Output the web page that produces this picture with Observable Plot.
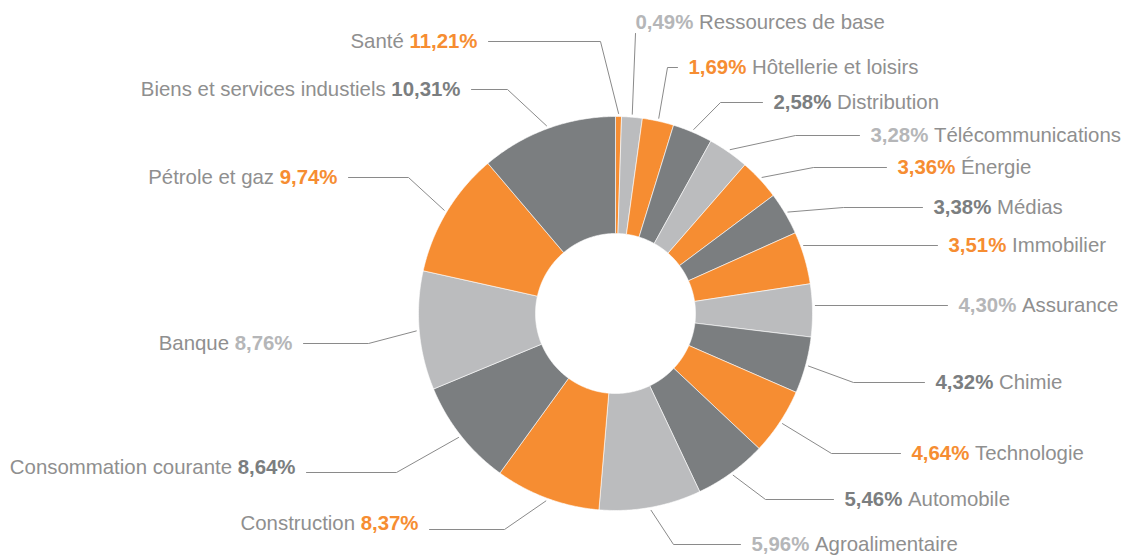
<!DOCTYPE html>
<html>
<head>
<meta charset="utf-8">
<script src="https://cdn.jsdelivr.net/npm/d3@7"></script>
<script src="https://cdn.jsdelivr.net/npm/@observablehq/plot@0.6"></script>
<style>
  html, body { margin: 0; padding: 0; background: #ffffff; }
  #chart svg { display: block; }
</style>
</head>
<body>
<div id="chart"></div>
<script>
// ---------------- DATA ----------------
// Sector names, in clockwise order of their slices starting at 12 o'clock
const categories = [
  "Santé", "Ressources de base", "Hôtellerie et loisirs", "Distribution",
  "Télécommunications", "Énergie", "Médias", "Immobilier", "Assurance",
  "Chimie", "Technologie", "Automobile", "Agroalimentaire", "Construction",
  "Consommation courante", "Banque", "Pétrole et gaz", "Biens et services industiels"
];
// Percentages printed in the labels
const labelValues = [11.21, 0.49, 1.69, 2.58, 3.28, 3.36, 3.38, 3.51, 4.30,
                     4.32, 4.64, 5.46, 5.96, 8.37, 8.64, 8.76, 9.74, 10.31];
// Slice sizes as drawn in the picture (same order as categories)
const sliceValues = [0.49, 1.69, 2.58, 3.28, 3.36, 3.38, 3.51, 4.30, 4.32,
                     4.64, 5.46, 5.96, 8.37, 8.64, 8.76, 9.74, 10.31, 11.21];
// Colour group of each sector
const colorGroups = ["orange", "light", "orange", "dark", "light", "orange", "dark", "orange", "light",
                     "dark", "orange", "dark", "light", "orange", "dark", "light", "orange", "dark"];

// ---------------- STYLE / LAYOUT ----------------
const sliceColor = {orange: "#F68D32", dark: "#7B7E80", light: "#BBBCBE"};
const pctColor   = {orange: "#F68D32", dark: "#7B7E80", light: "#B5B6B8"};
const nameColor = "#8F8F8F";
const leaderColor = "#8A8A8A";
const FONT = "'Liberation Sans', Arial, Helvetica, sans-serif";
const FS = 20.4;
const W = 1122, H = 555;
const cx = 615, cy = 313, R = 197, r0 = 80, rLead = 200;

// label placement: side, text x (start for right, end for left), text y, elbow x
const labelLayout = [
  {side: "left",  x: 477, y: 41,  elbow: 600},
  {side: "below", x: 635, y: 22},
  {side: "right", x: 688, y: 67,  elbow: 667},
  {side: "right", x: 773, y: 102, elbow: 720},
  {side: "right", x: 870, y: 135, elbow: 795},
  {side: "right", x: 897, y: 167, elbow: 813},
  {side: "right", x: 933, y: 207, elbow: 843},
  {side: "right", x: 948, y: 245, elbow: null},
  {side: "right", x: 958, y: 305, elbow: null},
  {side: "right", x: 935, y: 382, elbow: 853},
  {side: "right", x: 911, y: 453, elbow: 831},
  {side: "right", x: 844, y: 499, elbow: 765},
  {side: "right", x: 751, y: 544, elbow: 673},
  {side: "left",  x: 418, y: 523, elbow: 504, dy: 6},
  {side: "left",  x: 295, y: 467, elbow: 396, dy: 5},
  {side: "left",  x: 292, y: 343, elbow: 368},
  {side: "left",  x: 337, y: 177, elbow: 408},
  {side: "left",  x: 460, y: 89,  elbow: 507}
];

// ---------------- GEOMETRY FROM DATA ----------------
const total = d3.sum(sliceValues);
const ang = d3.scaleLinear().domain([0, total]).range([0, 2 * Math.PI]);
const pt = (a, rad) => ({x: cx + rad * Math.sin(a), y: cy - rad * Math.cos(a)});

const slicePts = [];
const mids = [];
let cum = 0;
sliceValues.forEach((v, i) => {
  const a0 = ang(cum), a1 = ang(cum + v);
  cum += v;
  mids.push((a0 + a1) / 2);
  const n = Math.max(2, Math.ceil((a1 - a0) / (Math.PI / 360)));
  const color = sliceColor[colorGroups[i]];
  const poly = [];
  for (let k = 0; k <= n; k++) poly.push(pt(a0 + (a1 - a0) * k / n, R));
  for (let k = n; k >= 0; k--) poly.push(pt(a0 + (a1 - a0) * k / n, r0));
  poly.push(poly[0]);
  poly.forEach(p => slicePts.push({id: i, x: p.x, y: p.y, color}));
});

// leader lines
const leaderPts = [];
labelLayout.forEach((L, i) => {
  const ly = L.y + (L.dy || 0);
  let pts;
  if (L.side === "below") {
    pts = [{x: L.x, y: L.y + 11}, pt(mids[i], rLead)];
  } else if (L.elbow == null) {
    const xs = L.side === "right" ? L.x - 11 : L.x + 11;
    const dx = Math.sqrt(rLead * rLead - (ly - cy) * (ly - cy));
    pts = [{x: xs, y: ly}, {x: L.side === "right" ? cx + dx : cx - dx, y: ly}];
  } else {
    const xs = L.side === "left" ? L.x + 11 : L.x - 11;
    pts = [{x: xs, y: ly}, {x: L.elbow, y: ly}, pt(mids[i], rLead)];
  }
  pts.forEach(p => leaderPts.push({id: i, x: p.x, y: p.y}));
});

// text measurement
const ctx = document.createElement("canvas").getContext("2d");
function tw(s, bold) {
  ctx.font = (bold ? "bold " : "") + FS + "px " + FONT;
  return ctx.measureText(s).width;
}
const fmt = v => v.toFixed(2).replace(".", ",") + "%";

const rightPct = [], rightName = [], leftPct = [], leftName = [];
categories.forEach((c, i) => {
  const L = labelLayout[i];
  const pct = fmt(labelValues[i]);
  const col = pctColor[colorGroups[i]];
  if (L.side === "left") {
    leftPct.push({x: L.x, y: L.y, text: pct, color: col});
    leftName.push({x: L.x - tw(pct, true) - tw(" ", false), y: L.y, text: c});
  } else {
    rightPct.push({x: L.x, y: L.y, text: pct, color: col});
    rightName.push({x: L.x + tw(pct, true) + tw(" ", false), y: L.y, text: c});
  }
});

const textCommon = {x: "x", y: "y", text: "text", fontSize: FS, fontFamily: FONT, lineAnchor: "middle"};

const chart = Plot.plot({
  width: W,
  height: H,
  margin: 0,
  x: {domain: [0, W], range: [0, W], axis: null},
  y: {domain: [0, H], range: [0, H], axis: null},
  style: {background: "#ffffff", fontFamily: FONT},
  marks: [
    Plot.line(slicePts, {x: "x", y: "y", z: "id", fill: "color", stroke: "#ffffff", strokeWidth: 0.6, curve: "linear"}),
    Plot.line(leaderPts, {x: "x", y: "y", z: "id", stroke: leaderColor, strokeWidth: 1, curve: "linear"}),
    Plot.text(rightPct, {...textCommon, fill: "color", fontWeight: "bold", textAnchor: "start"}),
    Plot.text(rightName, {...textCommon, fill: nameColor, textAnchor: "start"}),
    Plot.text(leftPct, {...textCommon, fill: "color", fontWeight: "bold", textAnchor: "end"}),
    Plot.text(leftName, {...textCommon, fill: nameColor, textAnchor: "end"})
  ]
});
document.getElementById("chart").appendChild(chart);
</script>
</body>
</html>
